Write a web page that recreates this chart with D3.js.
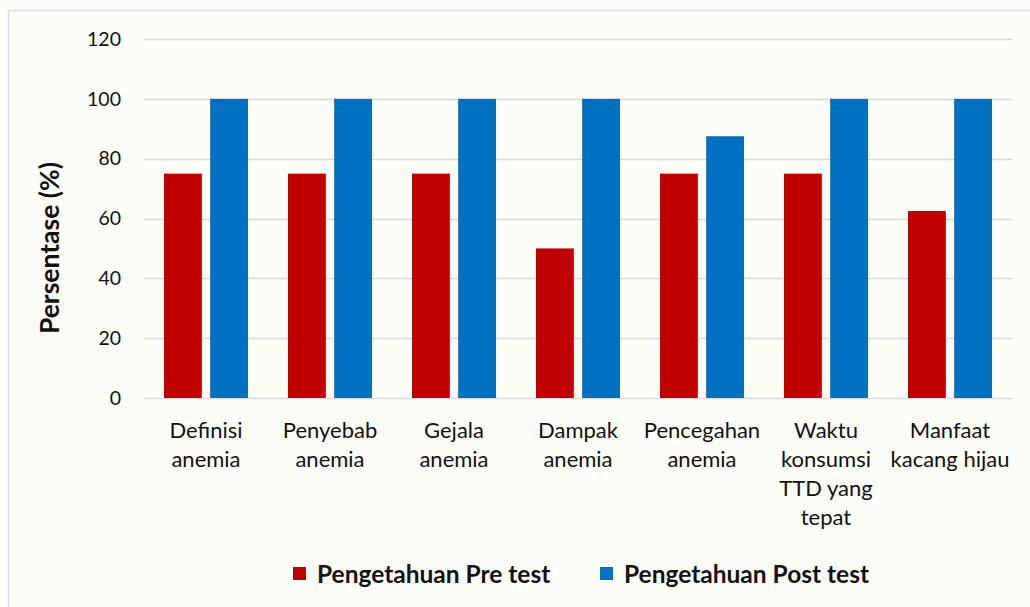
<!DOCTYPE html>
<html>
<head>
<meta charset="utf-8">
<script src="https://cdn.jsdelivr.net/npm/d3@7"></script>
<style>
  html, body { margin: 0; padding: 0; background: #fdfdf8; }
  svg { display: block; font-family: Lato, "Open Sans", sans-serif; }
</style>
</head>
<body>
<script>
const categories = [
  ["Definisi", "anemia"],
  ["Penyebab", "anemia"],
  ["Gejala", "anemia"],
  ["Dampak", "anemia"],
  ["Pencegahan", "anemia"],
  ["Waktu", "konsumsi", "TTD yang", "tepat"],
  ["Manfaat", "kacang hijau"]
];
const seriesNames = ["Pengetahuan Pre test", "Pengetahuan Post test"];
const preTest = [75, 75, 75, 50, 75, 75, 62.5];
const postTest = [100, 100, 100, 100, 87.5, 100, 100];
const yTicks = [0, 20, 40, 60, 80, 100, 120];
const colors = ["#c00000", "#0070c0"];

const width = 1030;
const height = 607;
const margin = { left: 144, right: 18, top: 39, bottom: 209 };

const svg = d3.select("body").append("svg")
  .attr("width", width).attr("height", height);

svg.append("rect")
  .attr("x", 8.5).attr("y", 10.5)
  .attr("width", width).attr("height", height)
  .attr("fill", "#fdfdf8")
  .attr("stroke", "#dcdde2").attr("stroke-width", 1.5);

const x = d3.scaleBand()
  .domain(d3.range(categories.length))
  .range([margin.left, width - margin.right]);

const x1 = d3.scaleBand()
  .domain([0, 1])
  .range([20, x.bandwidth() - 20])
  .paddingInner(0.18);

const y = d3.scaleLinear()
  .domain([0, 120])
  .range([height - margin.bottom, margin.top]);

// gridlines
svg.append("g")
  .selectAll("line")
  .data(yTicks)
  .join("line")
  .attr("x1", margin.left).attr("x2", width - margin.right)
  .attr("y1", d => Math.round(y(d)) + 0.5).attr("y2", d => Math.round(y(d)) + 0.5)
  .attr("stroke", "#d9d9dc").attr("stroke-width", 1.5);

// y tick labels
svg.append("g")
  .selectAll("text")
  .data(yTicks)
  .join("text")
  .attr("x", 121)
  .attr("y", d => y(d))
  .attr("dy", "0.35em")
  .attr("text-anchor", "end")
  .attr("font-size", 19.5)
  .attr("fill", "#111")
  .text(d => d);

// bars
const series = [preTest, postTest];
const groups = svg.append("g")
  .selectAll("g")
  .data(categories.map((c, i) => i))
  .join("g")
  .attr("transform", i => `translate(${x(i)},0)`);

groups.selectAll("rect")
  .data(i => series.map((s, k) => ({ k, v: s[i] })))
  .join("rect")
  .attr("x", d => x1(d.k))
  .attr("width", x1.bandwidth())
  .attr("y", d => y(d.v))
  .attr("height", d => y(0) - y(d.v))
  .attr("fill", d => colors[d.k]);

// category labels
const catText = svg.append("g")
  .selectAll("text")
  .data(categories)
  .join("text")
  .attr("x", (d, i) => x(i) + x.bandwidth() / 2)
  .attr("y", 438)
  .attr("text-anchor", "middle")
  .attr("font-size", 22)
  .attr("fill", "#111");

catText.selectAll("tspan")
  .data(d => d)
  .join("tspan")
  .attr("x", function () { return this.parentNode.getAttribute("x"); })
  .attr("dy", (d, j) => j === 0 ? 0 : 29)
  .text(d => d);

// axis title
svg.append("text")
  .attr("transform", `translate(50,248) rotate(-90)`)
  .attr("text-anchor", "middle")
  .attr("dy", "0.35em")
  .attr("font-size", 26.5)
  .attr("font-weight", "bold")
  .attr("fill", "#111")
  .text("Persentase (%)");

// legend
const legendX = [293, 600];
const legend = svg.append("g")
  .selectAll("g")
  .data(seriesNames)
  .join("g")
  .attr("transform", (d, i) => `translate(${legendX[i]},567)`);

legend.append("rect")
  .attr("width", 13).attr("height", 13)
  .attr("fill", (d, i) => colors[i]);

legend.append("text")
  .attr("x", 24).attr("y", 7)
  .attr("dy", "0.35em")
  .attr("font-size", 24.5)
  .attr("font-weight", "bold")
  .attr("fill", "#111")
  .text(d => d);
</script>
</body>
</html>
